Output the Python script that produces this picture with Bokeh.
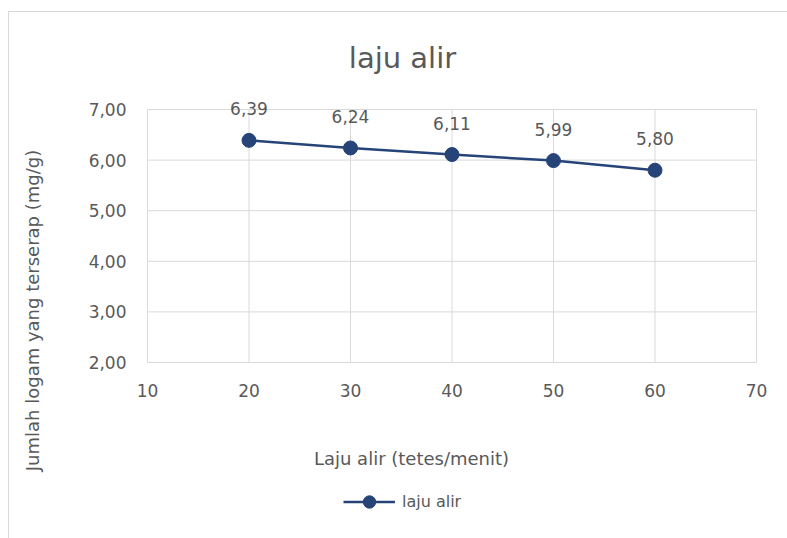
from bokeh.plotting import figure
from bokeh.models import (ColumnDataSource, LabelSet, Label, Legend, LegendItem, Range1d)
from bokeh.core.properties import value
from bokeh.embed import file_html
from bokeh.resources import INLINE

# Flow rate (drops/minute) vs. metal adsorbed (mg/g)
laju_alir = [20, 30, 40, 50, 60]
jumlah_terserap = [6.39, 6.24, 6.11, 5.99, 5.80]
x_ticks = [10, 20, 30, 40, 50, 60, 70]
y_ticks = [2, 3, 4, 5, 6, 7]

FONT = "DejaVu Sans"
TXT = "#595959"
GRID = "#d9d9d9"
NAVY = "#264478"

# canvas size and the pixel box of the plotting area inside it
W, H = 778, 526
AREA_L, AREA_R, AREA_T, AREA_B = 138, 747, 97, 350

x0, x1 = x_ticks[0], x_ticks[-1]
y0, y1 = y_ticks[0], y_ticks[-1]
kx = (x1 - x0) / (AREA_R - AREA_L)
ky = (y1 - y0) / (AREA_B - AREA_T)
x_range = Range1d(x0 - AREA_L * kx, x1 + (W - AREA_R) * kx)
y_range = Range1d(y0 - (H - AREA_B) * ky, y1 + AREA_T * ky)

p = figure(width=W, height=H, output_backend="svg", toolbar_location=None,
           x_range=x_range, y_range=y_range,
           x_axis_location=None, y_axis_location=None, min_border=0)
p.margin = (12, 0, 0, 9)
p.styles = {"outline": f"1px solid {GRID}"}
p.outline_line_color = None
p.background_fill_color = "white"
p.border_fill_color = "white"
p.grid.visible = False

# gridlines confined to the plotting area
nx, ny = len(x_ticks), len(y_ticks)
p.segment(x0=x_ticks, y0=[y0] * nx, x1=x_ticks, y1=[y1] * nx,
          line_color=GRID, line_width=1)
p.segment(x0=[x0] * ny, y0=y_ticks, x1=[x1] * ny, y1=y_ticks,
          line_color=GRID, line_width=1)

# tick labels
xt = ColumnDataSource(dict(x=x_ticks, y=[y0] * nx, t=[str(v) for v in x_ticks]))
yt = ColumnDataSource(dict(x=[x0] * ny, y=y_ticks,
                           t=[f"{v:.2f}".replace(".", ",") for v in y_ticks]))
p.add_layout(LabelSet(x="x", y="y", text="t", source=xt, y_offset=-28,
                      text_align="center", text_baseline="middle",
                      text_font=value(FONT), text_font_size="17px", text_color=TXT))
p.add_layout(LabelSet(x="x", y="y", text="t", source=yt, x_offset=-21,
                      text_align="right", text_baseline="middle",
                      text_font=value(FONT), text_font_size="17px", text_color=TXT))

# series
src = ColumnDataSource(dict(
    x=laju_alir,
    y=jumlah_terserap,
    lbl=[f"{v:.2f}".replace(".", ",") for v in jumlah_terserap],
))
ln = p.line("x", "y", source=src, line_color=NAVY, line_width=2.5)
mk = p.scatter("x", "y", source=src, size=14, fill_color=NAVY, line_color=NAVY)

p.add_layout(LabelSet(x="x", y="y", text="lbl", source=src, y_offset=25,
                      text_align="center", text_baseline="alphabetic",
                      text_font=value(FONT), text_font_size="17px", text_color=TXT))

# chart title and axis titles
p.add_layout(Label(x=393, y=H - 45, x_units="screen", y_units="screen",
                   text="laju alir", text_align="center", text_baseline="middle",
                   text_font=FONT, text_font_size="29px", text_color=TXT))
p.add_layout(Label(x=402, y=H - 446, x_units="screen", y_units="screen",
                   text="Laju alir (tetes/menit)", text_align="center",
                   text_baseline="middle", text_font=FONT,
                   text_font_size="18px", text_color=TXT))
p.add_layout(Label(x=23, y=H - 298, x_units="screen", y_units="screen",
                   angle=1.5707963, text="Jumlah logam yang terserap (mg/g)",
                   text_align="center", text_baseline="middle", text_font=FONT,
                   text_font_size="18px", text_color=TXT))

legend = Legend(items=[LegendItem(label="laju alir", renderers=[ln, mk])],
                location=(334, 21), orientation="horizontal",
                glyph_width=52, glyph_height=31, label_standoff=7,
                label_text_font=FONT, label_text_font_size="16px",
                label_text_color=TXT, border_line_color=None,
                background_fill_alpha=0, padding=0, margin=0)
p.add_layout(legend)

open("out.html", "w").write(file_html(p, INLINE))
